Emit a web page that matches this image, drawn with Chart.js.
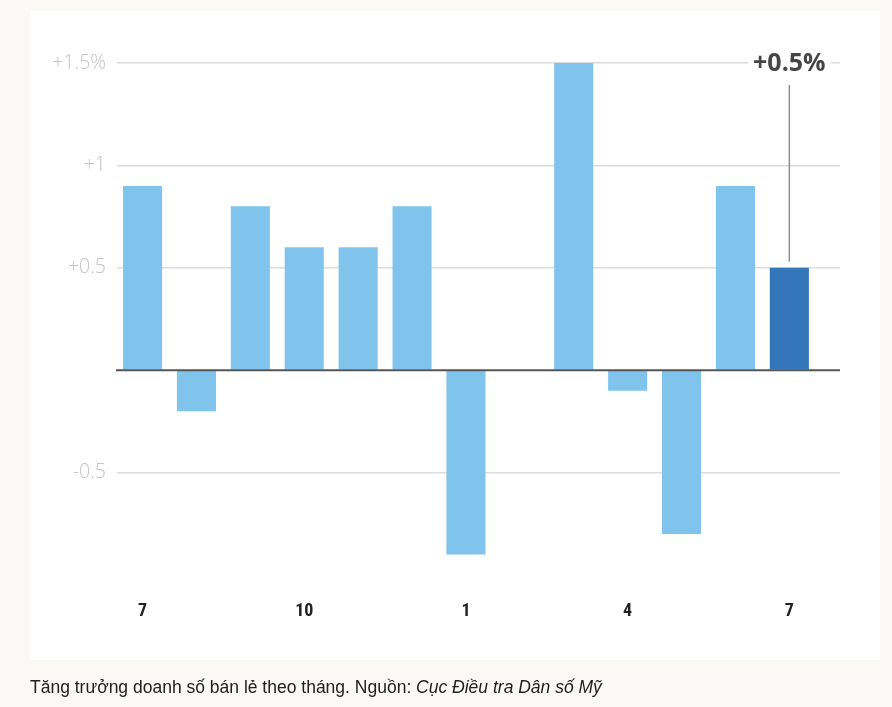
<!DOCTYPE html>
<html>
<head>
<meta charset="utf-8">
<script src="https://cdn.jsdelivr.net/npm/chart.js@4.4.1/dist/chart.umd.min.js"></script>
<style>
  html, body { margin: 0; padding: 0; }
  body { width: 892px; height: 707px; background: #faf9f5; position: relative; overflow: hidden; }
  #panel { position: absolute; left: 30px; top: 11px; width: 850px; height: 649px; background: #ffffff; }
  #wrap { position: absolute; left: 0; top: 0; width: 892px; height: 707px; }
  #caption { position: absolute; left: 30px; top: 677px; font-family: "Liberation Sans", Arial, sans-serif; font-size: 17.5px; color: #222; white-space: nowrap; }
</style>
</head>
<body>
<div id="panel"></div>
<div id="wrap"><canvas id="c" width="892" height="707"></canvas></div>
<div id="caption">Tăng trưởng doanh số bán lẻ theo tháng. Nguồn: <i>Cục Điều tra Dân số Mỹ</i></div>
<script>
// Month labels (Jul .. Jul)
const categories = ['7','8','9','10','11','12','1','2','3','4','5','6','7'];
// Month-over-month retail sales growth, %
const growth = [0.9, -0.2, 0.8, 0.6, 0.6, 0.8, -0.9, 0, 1.5, -0.1, -0.8, 0.9, 0.5];
// Which month labels are shown on the x axis
const shownMonthIdx = [0, 3, 6, 9, 12];
// Y tick values and their labels
const yTickValues = [-1, -0.5, 0, 0.5, 1, 1.5];
const yTickLabels = ['', '-0.5', '', '+0.5', '+1', '+1.5%'];

const lightBlue = '#80c4ed';
const darkBlue = '#3377ba';
const lastIdx = growth.length - 1;

const zeroLine = {
  id: 'zeroLine',
  afterDatasetsDraw(chart) {
    const { ctx, chartArea, scales } = chart;
    const y = scales.y.getPixelForValue(0);
    ctx.save();
    ctx.strokeStyle = '#555';
    ctx.lineWidth = 2;
    ctx.beginPath();
    ctx.moveTo(chartArea.left - 1, y);
    ctx.lineTo(chartArea.right, y);
    ctx.stroke();
    ctx.restore();
  }
};

const callout = {
  id: 'callout',
  afterDraw(chart) {
    const { ctx, scales } = chart;
    const v = growth[lastIdx];
    const x = scales.x.getPixelForValue(lastIdx);
    const yText = scales.y.getPixelForValue(1.5);
    const yBar = scales.y.getPixelForValue(v);
    const label = (v > 0 ? '+' : '') + v + '%';
    ctx.save();
    ctx.font = 'bold 25px "Open Sans", "Noto Sans", sans-serif';
    const w = ctx.measureText(label).width;
    ctx.fillStyle = '#ffffff';
    ctx.fillRect(x - w / 2 - 5, yText - 13, w + 10, 26);
    ctx.fillStyle = '#454545';
    ctx.textAlign = 'center';
    ctx.textBaseline = 'middle';
    ctx.fillText(label, x, yText + 1);
    ctx.strokeStyle = '#8f8f8f';
    ctx.lineWidth = 1.5;
    ctx.beginPath();
    ctx.moveTo(x, yText + 22);
    ctx.lineTo(x, yBar - 6);
    ctx.stroke();
    ctx.restore();
  }
};

new Chart(document.getElementById('c'), {
  type: 'bar',
  data: {
    datasets: [{
      data: growth.map((v, i) => ({ x: i, y: v })),
      backgroundColor: growth.map((v, i) => i === lastIdx ? darkBlue : lightBlue),
      borderWidth: 0,
      barPercentage: 0.725,
      categoryPercentage: 1
    }]
  },
  options: {
    responsive: false,
    animation: false,
    events: [],
    layout: { padding: { left: 0, right: 52, top: 63, bottom: 72 } },
    plugins: { legend: { display: false }, tooltip: { enabled: false } },
    scales: {
      x: {
        type: 'linear',
        offset: false,
        min: -0.474,
        max: 12.94,
        grid: { display: false },
        border: { display: false },
        afterBuildTicks(scale) { scale.ticks = shownMonthIdx.map(i => ({ value: i })); },
        afterFit(scale) { scale.height = 60; },
        ticks: {
          autoSkip: false,
          maxRotation: 0,
          padding: 18,
          color: '#222',
          font: { family: '"Liberation Sans Narrow", "Roboto Condensed", "Liberation Sans", sans-serif', size: 18, weight: 'bold' },
          callback: (v) => categories[v]
        }
      },
      y: {
        min: -1,
        max: 1.5,
        afterBuildTicks(scale) { scale.ticks = yTickValues.map(v => ({ value: v })); },
        afterFit(scale) { scale.width = 117; },
        border: { display: false },
        grid: {
          drawTicks: false,
          color: (c) => (c.tick && (c.tick.value === 0 || c.tick.value === -1)) ? 'rgba(0,0,0,0)' : '#dcdcdc',
          lineWidth: 1.5
        },
        ticks: {
          padding: 11,
          color: '#c4c4c4',
          font: { family: '"Open Sans", "Noto Sans", sans-serif', size: 19.5, weight: '300' },
          callback: (v) => { const i = yTickValues.indexOf(v); return i >= 0 ? yTickLabels[i] : ''; }
        }
      }
    }
  },
  plugins: [zeroLine, callout]
});
</script>
</body>
</html>
